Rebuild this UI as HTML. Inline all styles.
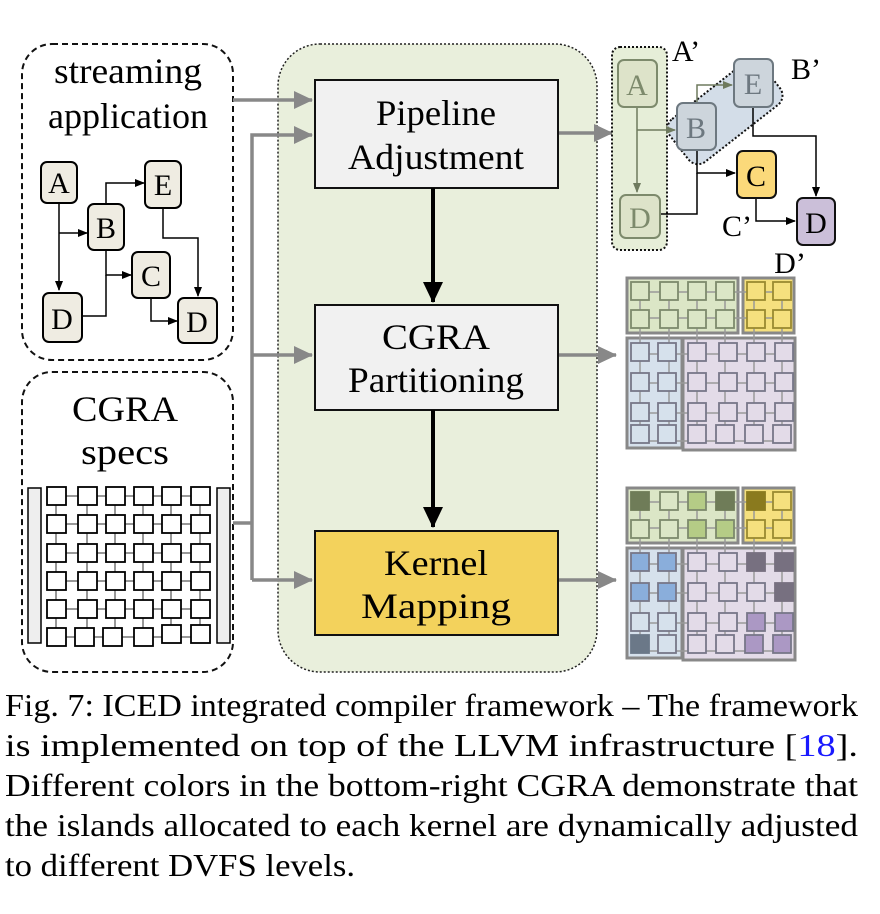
<!DOCTYPE html>
<html><head><meta charset="utf-8"><style>
html,body{margin:0;padding:0;background:#fff;}
svg{display:block;}
text{font-family:"Liberation Serif","Times New Roman",serif;}
</style></head><body>
<svg width="880" height="914" viewBox="0 0 880 914" xmlns="http://www.w3.org/2000/svg" font-family="Liberation Serif, serif">
<defs>
<marker id="ab" markerWidth="10" markerHeight="10" refX="9" refY="5" orient="auto" markerUnits="userSpaceOnUse"><path d="M0,1 L10,5 L0,9 z" fill="#000"/></marker>
<marker id="abg" markerWidth="10" markerHeight="10" refX="9" refY="5" orient="auto" markerUnits="userSpaceOnUse"><path d="M0,1 L10,5 L0,9 z" fill="#6e7a5e"/></marker>
<marker id="ag" markerWidth="20" markerHeight="20" refX="18" refY="10" orient="auto" markerUnits="userSpaceOnUse"><path d="M0,1 L19,10 L0,19 z" fill="#888"/></marker>
<marker id="abig" markerWidth="22" markerHeight="22" refX="20" refY="11" orient="auto" markerUnits="userSpaceOnUse"><path d="M0,1 L21,11 L0,21 z" fill="#000"/></marker>
</defs>

<rect x="278" y="44" width="319" height="628" rx="42" fill="#e9efdc" stroke="#222" stroke-width="1.5" stroke-dasharray="2,2"/>

<rect x="22" y="44" width="211" height="316" rx="30" fill="#fff" stroke="#111" stroke-width="2" stroke-dasharray="6,4"/>
<text x="128" y="83" font-size="36" text-anchor="middle" textLength="148" lengthAdjust="spacingAndGlyphs">streaming</text>
<text x="128" y="128" font-size="36" text-anchor="middle" textLength="160" lengthAdjust="spacingAndGlyphs">application</text>

<g stroke="#000" stroke-width="1.5" fill="none">
<path d="M59,203 V290" marker-end="url(#ab)"/>
<path d="M59,233 H87" marker-end="url(#ab)"/>
<path d="M106,204 V183 H144" marker-end="url(#ab)"/>
<path d="M106,250 V275 H131" marker-end="url(#ab)"/>
<path d="M82,316 H106 V275"/>
<path d="M163,208 V238 H198 V296" marker-end="url(#ab)"/>
<path d="M151,298 V321 H177" marker-end="url(#ab)"/>
</g>
<g fill="#efece2" stroke="#000" stroke-width="2">
<rect x="41" y="162" width="36" height="41" rx="6"/>
<rect x="88" y="204" width="36" height="46" rx="6"/>
<rect x="145" y="161" width="36" height="47" rx="6"/>
<rect x="132" y="252" width="38" height="46" rx="6"/>
<rect x="43" y="293" width="39" height="49" rx="6"/>
<rect x="178" y="298" width="39" height="45" rx="6"/>
</g>
<g font-size="30" text-anchor="middle">
<text x="59" y="193">A</text><text x="106" y="238">B</text><text x="163" y="195">E</text>
<text x="151" y="286">C</text><text x="62" y="329">D</text><text x="197" y="332">D</text>
</g>

<rect x="22" y="372" width="211" height="300" rx="30" fill="#fff" stroke="#111" stroke-width="2" stroke-dasharray="6,4"/>
<text x="125" y="421" font-size="36" text-anchor="middle" textLength="106" lengthAdjust="spacingAndGlyphs">CGRA</text>
<text x="125" y="464" font-size="36" text-anchor="middle" textLength="88" lengthAdjust="spacingAndGlyphs">specs</text>
<rect x="28" y="488" width="13" height="155" fill="#eee" stroke="#000" stroke-width="1.5"/>
<rect x="217" y="488" width="13" height="155" fill="#eee" stroke="#000" stroke-width="1.5"/>
<g stroke="#777" stroke-width="1.5">
<path d="M57,496 H202 M57,524 H202 M57,553 H202 M57,581 H202 M57,609 H202 M57,637 H202"/>
<path d="M56,496 V637 M87,496 V637 M115,496 V637 M143,496 V637 M171,496 V637 M200,496 V637"/>
</g>
<g fill="#fff" stroke="#000" stroke-width="1.8">
<rect x="47" y="487" width="19" height="18"/><rect x="78" y="487" width="19" height="18"/><rect x="106" y="487" width="19" height="18"/><rect x="134" y="487" width="19" height="18"/><rect x="162" y="487" width="19" height="18"/><rect x="191" y="487" width="19" height="18"/>
<rect x="47" y="515" width="19" height="18"/><rect x="78" y="515" width="19" height="18"/><rect x="106" y="515" width="19" height="18"/><rect x="134" y="515" width="19" height="18"/><rect x="162" y="515" width="19" height="18"/><rect x="191" y="515" width="19" height="18"/>
<rect x="47" y="544" width="19" height="18"/><rect x="78" y="544" width="19" height="18"/><rect x="106" y="544" width="19" height="18"/><rect x="134" y="544" width="19" height="18"/><rect x="162" y="544" width="19" height="18"/><rect x="191" y="544" width="19" height="18"/>
<rect x="47" y="572" width="19" height="18"/><rect x="78" y="572" width="19" height="18"/><rect x="106" y="572" width="19" height="18"/><rect x="134" y="572" width="19" height="18"/><rect x="162" y="572" width="19" height="18"/><rect x="191" y="572" width="19" height="18"/>
<rect x="47" y="600" width="19" height="18"/><rect x="78" y="600" width="19" height="18"/><rect x="106" y="600" width="19" height="18"/><rect x="134" y="600" width="19" height="18"/><rect x="162" y="600" width="19" height="18"/><rect x="191" y="600" width="19" height="18"/>
<rect x="47" y="628" width="19" height="18"/><rect x="75" y="628" width="19" height="18"/><rect x="103" y="628" width="19" height="18"/><rect x="134" y="628" width="19" height="18"/><rect x="162" y="625" width="19" height="18"/><rect x="191" y="625" width="19" height="18"/>
</g>

<g stroke="#888" stroke-width="3.5" fill="none">
<path d="M233,100 H312" marker-end="url(#ag)"/>
<path d="M233,523 H252"/>
<path d="M252,580 V135 H312" marker-end="url(#ag)"/>
<path d="M252,355 H312" marker-end="url(#ag)"/>
<path d="M252,580 H312" marker-end="url(#ag)"/>
<path d="M558,133 H612" marker-end="url(#ag)"/>
<path d="M558,355 H616" marker-end="url(#ag)"/>
<path d="M558,580 H616" marker-end="url(#ag)"/>
</g>

<rect x="315" y="80" width="243" height="108" fill="#f1f1f1" stroke="#111" stroke-width="2"/>
<text x="436" y="125" font-size="36" text-anchor="middle" textLength="120" lengthAdjust="spacingAndGlyphs">Pipeline</text>
<text x="436" y="169" font-size="36" text-anchor="middle" textLength="176" lengthAdjust="spacingAndGlyphs">Adjustment</text>
<rect x="315" y="305" width="243" height="105" fill="#f1f1f1" stroke="#111" stroke-width="2"/>
<text x="436" y="349" font-size="36" text-anchor="middle" textLength="108" lengthAdjust="spacingAndGlyphs">CGRA</text>
<text x="436" y="392" font-size="36" text-anchor="middle" textLength="176" lengthAdjust="spacingAndGlyphs">Partitioning</text>
<rect x="315" y="531" width="243" height="104" fill="#f3d25c" stroke="#111" stroke-width="2"/>
<text x="436" y="575" font-size="36" text-anchor="middle" textLength="104" lengthAdjust="spacingAndGlyphs">Kernel</text>
<text x="436" y="618" font-size="36" text-anchor="middle" textLength="150" lengthAdjust="spacingAndGlyphs">Mapping</text>
<g stroke="#000" stroke-width="4">
<path d="M433,188 V302" marker-end="url(#abig)"/>
<path d="M433,410 V527" marker-end="url(#abig)"/>
</g>

<rect x="612" y="47" width="55" height="203" rx="8" fill="#e6eed8" stroke="#111" stroke-width="2" stroke-dasharray="2,2"/>
<g transform="translate(725,112) rotate(-38)">
<rect x="-58" y="-27" width="116" height="54" rx="12" fill="#d3dde8" stroke="#111" stroke-width="2" stroke-dasharray="2,2"/>
</g>
<g stroke="#6e7a5e" stroke-width="1.5" fill="none">
<path d="M637,107 V192" marker-end="url(#abg)"/>
<path d="M637,130 H675" marker-end="url(#abg)"/>
<path d="M697,103 V85 H732" marker-end="url(#abg)"/>
</g>
<g stroke="#000" stroke-width="1.5" fill="none">
<path d="M697,150 V173 H735" marker-end="url(#ab)"/>
<path d="M660,214 H697 V173"/>
<path d="M753,107 V136 H816 V196" marker-end="url(#ab)"/>
<path d="M756,198 V221 H795" marker-end="url(#ab)"/>
</g>
<g stroke-width="2">
<rect x="618" y="60" width="39" height="47" rx="6" fill="#dde3c9" stroke="#7d8a6c"/>
<rect x="620" y="195" width="40" height="43" rx="6" fill="#dde3c9" stroke="#7d8a6c"/>
<rect x="677" y="103" width="39" height="47" rx="6" fill="#cdd5dc" stroke="#6d7880"/>
<rect x="734" y="59" width="39" height="48" rx="6" fill="#cdd5dc" stroke="#6d7880"/>
<rect x="737" y="151" width="39" height="47" rx="6" fill="#fbd97a" stroke="#111"/>
<rect x="797" y="198" width="38" height="47" rx="6" fill="#cbbfd9" stroke="#111"/>
</g>
<g font-size="30" text-anchor="middle">
<text x="637" y="95" fill="#7d8a6c">A</text><text x="640" y="228" fill="#7d8a6c">D</text>
<text x="696" y="138" fill="#6d7880">B</text><text x="753" y="94" fill="#6d7880">E</text>
<text x="756" y="186">C</text><text x="816" y="233">D</text>
<text x="686" y="61">A’</text><text x="806" y="79">B’</text>
<text x="737" y="236">C’</text><text x="790" y="273">D’</text>
</g>

<g>
<rect x="627" y="278" width="111" height="55" fill="#dbe6c6" stroke="#888" stroke-width="3"/>
<rect x="743" y="278" width="51" height="55" fill="#f5e07e" stroke="#888" stroke-width="3"/>
<rect x="627" y="338" width="55" height="110" fill="#d6e1ec" stroke="#888" stroke-width="3"/>
<rect x="683" y="338" width="112" height="112" fill="#e3dbe8" stroke="#888" stroke-width="3"/>
<g stroke="#999" stroke-width="1.5">
<path d="M640,292 H780 M640,318 H780 M640,354 H780 M640,383 H780 M640,413 H780 M640,441 H780"/>
<path d="M640,290 V441 M669,290 V441 M697,290 V441 M725,290 V441 M754,290 V441 M782,290 V441"/>
</g>
<g stroke="#778" stroke-width="1.8">
<rect x="631" y="282" width="18" height="18" fill="#dbe6c6" stroke="#7d8a6c"/><rect x="660" y="282" width="18" height="18" fill="#dbe6c6" stroke="#7d8a6c"/><rect x="688" y="282" width="18" height="18" fill="#dbe6c6" stroke="#7d8a6c"/><rect x="716" y="282" width="18" height="18" fill="#dbe6c6" stroke="#7d8a6c"/>
<rect x="631" y="310" width="18" height="18" fill="#dbe6c6" stroke="#7d8a6c"/><rect x="660" y="310" width="18" height="18" fill="#dbe6c6" stroke="#7d8a6c"/><rect x="688" y="310" width="18" height="18" fill="#dbe6c6" stroke="#7d8a6c"/><rect x="716" y="310" width="18" height="18" fill="#dbe6c6" stroke="#7d8a6c"/>
<rect x="747" y="282" width="18" height="18" fill="#f5e07e" stroke="#9a8a30"/><rect x="773" y="282" width="18" height="18" fill="#f5e07e" stroke="#9a8a30"/>
<rect x="747" y="310" width="18" height="18" fill="#f5e07e" stroke="#9a8a30"/><rect x="773" y="310" width="18" height="18" fill="#f5e07e" stroke="#9a8a30"/>
<rect x="631" y="343" width="18" height="18" fill="#d6e1ec"/><rect x="658" y="343" width="18" height="18" fill="#d6e1ec"/>
<rect x="631" y="373" width="18" height="18" fill="#d6e1ec"/><rect x="658" y="373" width="18" height="18" fill="#d6e1ec"/>
<rect x="631" y="403" width="18" height="18" fill="#d6e1ec"/><rect x="658" y="403" width="18" height="18" fill="#d6e1ec"/>
<rect x="631" y="425" width="18" height="18" fill="#d6e1ec"/><rect x="658" y="425" width="18" height="18" fill="#d6e1ec"/>
<rect x="688" y="343" width="18" height="18" fill="#e3dbe8"/><rect x="719" y="343" width="18" height="18" fill="#e3dbe8"/><rect x="747" y="343" width="18" height="18" fill="#e3dbe8"/><rect x="775" y="343" width="18" height="18" fill="#e3dbe8"/>
<rect x="688" y="373" width="18" height="18" fill="#e3dbe8"/><rect x="719" y="373" width="18" height="18" fill="#e3dbe8"/><rect x="747" y="373" width="18" height="18" fill="#e3dbe8"/><rect x="775" y="373" width="18" height="18" fill="#e3dbe8"/>
<rect x="688" y="403" width="18" height="18" fill="#e3dbe8"/><rect x="719" y="403" width="18" height="18" fill="#e3dbe8"/><rect x="747" y="403" width="18" height="18" fill="#e3dbe8"/><rect x="775" y="403" width="18" height="18" fill="#e3dbe8"/>
<rect x="688" y="425" width="18" height="18" fill="#e3dbe8"/><rect x="716" y="425" width="18" height="18" fill="#e3dbe8"/><rect x="745" y="425" width="18" height="18" fill="#e3dbe8"/><rect x="773" y="425" width="18" height="18" fill="#e3dbe8"/>
</g>
</g>

<g transform="translate(0,210)">
<rect x="627" y="278" width="111" height="55" fill="#dbe6c6" stroke="#888" stroke-width="3"/>
<rect x="743" y="278" width="51" height="55" fill="#f5e07e" stroke="#888" stroke-width="3"/>
<rect x="627" y="338" width="55" height="110" fill="#d6e1ec" stroke="#888" stroke-width="3"/>
<rect x="683" y="338" width="112" height="112" fill="#e3dbe8" stroke="#888" stroke-width="3"/>
<g stroke="#999" stroke-width="1.5">
<path d="M640,292 H780 M640,318 H780 M640,354 H780 M640,383 H780 M640,413 H780 M640,441 H780"/>
<path d="M640,290 V441 M669,290 V441 M697,290 V441 M725,290 V441 M754,290 V441 M782,290 V441"/>
</g>
<g stroke="#778" stroke-width="1.8">
<rect x="631" y="282" width="18" height="18" fill="#6f7c58" stroke="#6f7c58"/><rect x="660" y="282" width="18" height="18" fill="#dbe6c6" stroke="#7d8a6c"/><rect x="688" y="282" width="18" height="18" fill="#b5cc86" stroke="#7d8a6c"/><rect x="716" y="282" width="18" height="18" fill="#6f7c58" stroke="#6f7c58"/>
<rect x="631" y="310" width="18" height="18" fill="#dbe6c6" stroke="#7d8a6c"/><rect x="660" y="310" width="18" height="18" fill="#dbe6c6" stroke="#7d8a6c"/><rect x="688" y="310" width="18" height="18" fill="#b5cc86" stroke="#7d8a6c"/><rect x="716" y="310" width="18" height="18" fill="#b5cc86" stroke="#7d8a6c"/>
<rect x="747" y="282" width="18" height="18" fill="#8a7a1e" stroke="#8a7a1e"/><rect x="773" y="282" width="18" height="18" fill="#f5e07e" stroke="#9a8a30"/>
<rect x="747" y="310" width="18" height="18" fill="#f5e07e" stroke="#9a8a30"/><rect x="773" y="310" width="18" height="18" fill="#f5e07e" stroke="#9a8a30"/>
<rect x="631" y="343" width="18" height="18" fill="#8aaedb"/><rect x="658" y="343" width="18" height="18" fill="#8aaedb"/>
<rect x="631" y="373" width="18" height="18" fill="#8aaedb"/><rect x="658" y="373" width="18" height="18" fill="#8aaedb"/>
<rect x="631" y="403" width="18" height="18" fill="#d6e1ec"/><rect x="658" y="403" width="18" height="18" fill="#d6e1ec"/>
<rect x="631" y="425" width="18" height="18" fill="#6b7888" stroke="#6b7888"/><rect x="658" y="425" width="18" height="18" fill="#d6e1ec"/>
<rect x="688" y="343" width="18" height="18" fill="#e3dbe8"/><rect x="719" y="343" width="18" height="18" fill="#e3dbe8"/><rect x="747" y="343" width="18" height="18" fill="#777080" stroke="#777080"/><rect x="775" y="343" width="18" height="18" fill="#777080" stroke="#777080"/>
<rect x="688" y="373" width="18" height="18" fill="#e3dbe8"/><rect x="719" y="373" width="18" height="18" fill="#e3dbe8"/><rect x="747" y="373" width="18" height="18" fill="#e3dbe8"/><rect x="775" y="373" width="18" height="18" fill="#777080" stroke="#777080"/>
<rect x="688" y="403" width="18" height="18" fill="#e3dbe8"/><rect x="719" y="403" width="18" height="18" fill="#e3dbe8"/><rect x="747" y="403" width="18" height="18" fill="#ab98c4"/><rect x="775" y="403" width="18" height="18" fill="#ab98c4"/>
<rect x="688" y="425" width="18" height="18" fill="#e3dbe8"/><rect x="716" y="425" width="18" height="18" fill="#e3dbe8"/><rect x="745" y="425" width="18" height="18" fill="#ab98c4"/><rect x="773" y="425" width="18" height="18" fill="#ab98c4"/>
</g>
</g>

<g font-size="32">
<text x="5" y="716" textLength="853" lengthAdjust="spacingAndGlyphs">Fig. 7: ICED integrated compiler framework – The framework</text>
<text x="5" y="756" textLength="853" lengthAdjust="spacingAndGlyphs">is  implemented  on  top  of  the  LLVM  infrastructure  [<tspan fill="#1a1aff">18</tspan>].</text>
<text x="5" y="796" textLength="853" lengthAdjust="spacingAndGlyphs">Different colors in the bottom-right CGRA demonstrate that</text>
<text x="5" y="836" textLength="853" lengthAdjust="spacingAndGlyphs">the islands allocated to each kernel are dynamically adjusted</text>
<text x="5" y="876" textLength="350" lengthAdjust="spacingAndGlyphs">to different DVFS levels.</text>
</g>
</svg>
</body></html>
